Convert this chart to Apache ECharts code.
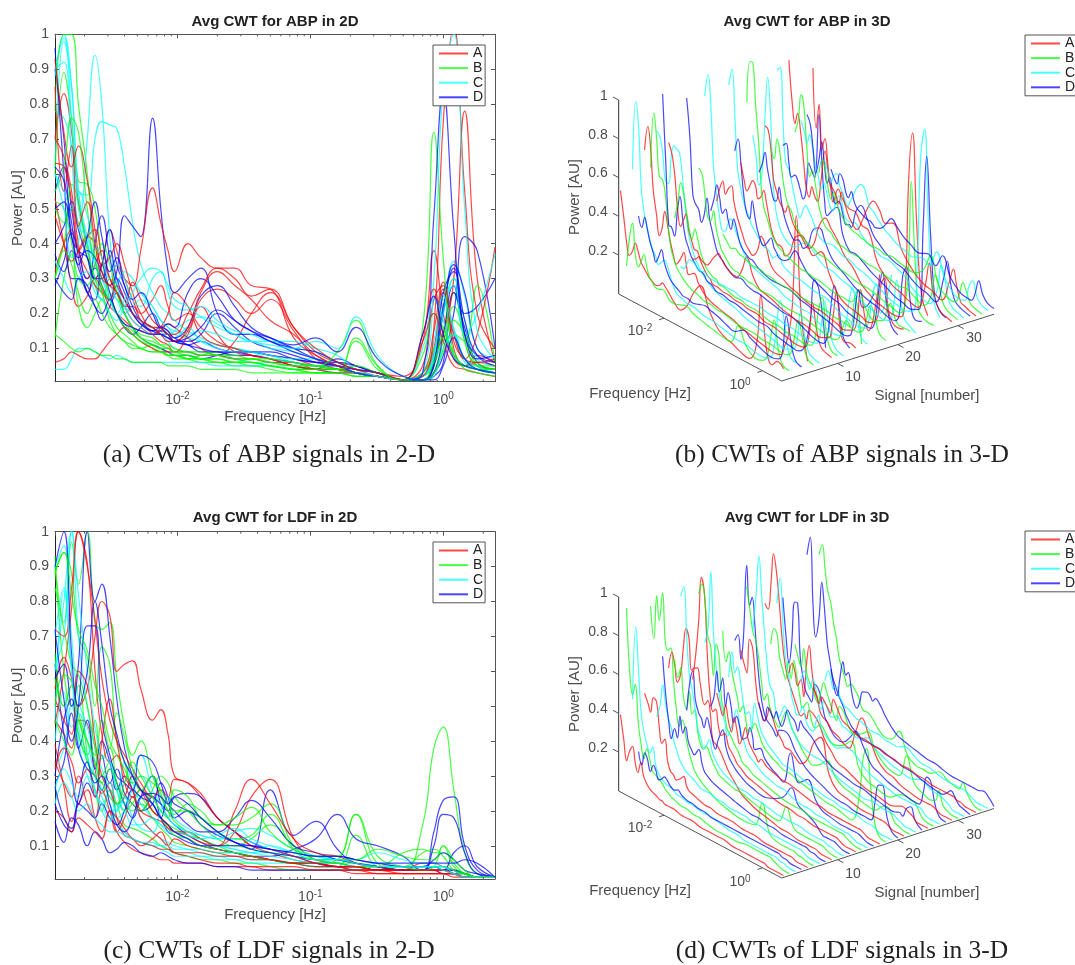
<!DOCTYPE html>
<html>
<head>
<meta charset="utf-8">
<style>html,body{margin:0;padding:0;background:#fff}#main{width:1075px;height:965px}</style>
<script src="https://cdn.jsdelivr.net/npm/echarts@6/dist/echarts.min.js"></script>
</head>
<body>
<div id="main"></div>
<script>
// shared frequency grid in Hz, the rows below have one value per entry
var freqHz = [0.0012,0.0014,0.0016,0.0018,0.0021, 0.0024,0.0027,0.0031,0.0035,0.004, 0.0046,0.0053,0.0065,0.0075,0.0085,
  0.0095,0.012,0.015,0.02,0.027, 0.036,0.05,0.075,0.11,0.16, 0.22,0.32,0.5,0.7,0.85, 1,1.2,1.45,1.8,2.45];
var minorFreqs = [0.002,0.003,0.004,0.005,0.006,0.007,0.008,0.009,0.02,0.03,0.04,0.05,0.06,0.07,0.08,0.09,
  0.2,0.3,0.4,0.5,0.6,0.7,0.8,0.9,2];
var groupNames = ['A','B','C','D'];
var groupColors = ['#ff0000','#00ff00','#00ffff','#0000ff'];
var powerTicks = [0.1,0.2,0.3,0.4,0.5,0.6,0.7,0.8,0.9,1];
var powerTicks3d = [0.2,0.4,0.6,0.8,1];
var signalTicks = [10,20,30];
var freqTicks3d = [0.01,1];

// power in hundredths, one row per signal 1..36, groups repeat A B C D
var abpPower = [
[53,40,28,22,25, 30,27,22,20,18, 16,15,14,15,17, 16,13,10,8,12, 20,26,16,9,6, 5,3,2,12,38, 20,7,5,8,6],
[13,30,37,22,16, 20,24,18,14,12, 10,10,11,10,8, 7,7,8,9,7, 6,5,4,3,3, 13,5,1,2,5, 15,26,12,5,4],
[62,98,85,55,42, 35,30,26,24,20, 22,24,20,15,12, 10,9,8,8,7, 6,6,5,4,3, 3,2,1,2,6, 20,35,25,10,7],
[37,32,38,33,26, 22,18,22,26,20, 16,13,11,10,9, 8,8,7,8,9, 8,7,5,4,7, 5,3,1,1,2, 6,26,16,6,4],
[70,83,72,52,40, 30,34,44,38,30, 24,20,24,28,22, 18,20,16,12,10, 9,8,7,5,4, 3,2,1,2,8, 14,30,78,30,6],
[60,89,76,58,57, 50,36,24,20,16, 14,12,10,9,8, 8,7,6,6,5, 5,4,3,3,3, 2,2,1,1,3, 12,22,14,5,3],
[78,76,68,55,54, 70,75,74,73,62, 46,34,26,22,20, 18,15,13,11,10, 9,8,6,5,4, 3,2,1,3,8, 24,14,6,4,3],
[96,60,30,30,26, 40,48,36,28,24, 20,18,15,15,14, 12,11,9,9,8, 8,7,6,5,5, 3,2,1,1,3, 8,20,42,38,10],
[70,65,55,40,30, 34,38,30,26,22, 22,18,14,12,11, 9,9,8,8,7, 7,6,6,4,4, 3,2,1,2,9, 27,15,7,5,4],
[30,40,50,46,36, 28,24,30,26,20, 16,13,11,10,10, 8,8,7,6,6, 5,5,4,3,3, 2,2,1,2,7, 22,30,12,5,4],
[4,4,7,10,10, 9,8,7,8,7, 6,6,6,6,6, 6,6,6,5,5, 5,5,4,4,3, 3,2,1,2,12, 26,16,7,4,3],
[90,70,42,38,36, 30,34,44,34,28, 22,18,16,14,13, 12,11,12,10,9, 9,8,7,6,6, 5,3,1,1,5, 20,34,26,10,6],
[6,7,9,8,7, 7,9,12,14,16, 14,12,10,9,9, 9,14,22,14,9, 8,7,5,4,3, 3,2,1,3,15, 29,10,5,6,5],
[52,50,40,30,28, 34,26,20,16,14, 12,10,9,9,8, 8,7,7,6,6, 6,5,4,4,4, 3,2,1,1,3, 9,14,12,28,6],
[88,100,85,55,40, 30,24,24,28,32, 30,26,22,18,16, 14,13,12,11,10, 9,7,6,5,5, 3,2,1,2,7, 20,30,18,7,5],
[28,35,43,38,30, 33,28,24,30,26, 20,17,15,14,14, 13,11,10,9,9, 9,9,7,6,5, 4,3,1,1,3, 14,28,20,22,30],
[32,40,44,38,42, 44,36,30,26,22, 18,16,14,16,20, 26,22,14,11,10, 8,7,5,4,4, 3,2,1,3,10, 26,14,7,14,39],
[14,12,10,9,10, 9,8,8,7,7, 6,6,6,6,5, 5,5,4,4,4, 3,3,3,3,3, 2,2,1,1,3, 10,18,14,6,4],
[90,99,75,50,40, 34,30,28,24,22, 20,18,16,16,14, 13,16,12,10,9, 9,8,7,7,5, 3,2,1,2,8, 22,28,14,20,37],
[55,62,50,36,26, 24,34,26,20,16, 14,16,20,16,14, 12,12,14,20,16, 12,10,8,6,5, 3,2,1,1,6, 22,33,18,8,5],
[48,40,35,38,42, 40,34,36,40,34, 26,20,16,16,15, 12,15,24,27,24, 20,24,15,7,4, 3,2,1,5,24, 28,12,7,6,7],
[78,100,100,80,60, 36,28,24,20,16, 14,12,11,10,10, 9,8,7,7,6, 6,5,4,4,4, 12,4,1,3,10, 14,8,5,5,5],
[60,50,36,40,70, 94,80,42,28,22, 18,16,14,14,14, 15,18,19,17,14, 12,12,10,9,6, 4,3,1,2,9, 25,15,7,5,3],
[40,45,52,44,36, 30,30,38,30,24, 20,17,15,16,15, 13,16,25,28,22, 16,13,10,7,5, 4,3,1,1,5, 26,32,14,7,8],
[63,62,52,38,32, 28,26,24,28,24, 20,18,16,14,12, 12,16,26,32,28, 24,18,14,8,5, 3,2,1,2,16, 75,102,55,20,10],
[50,46,57,52,38, 30,26,24,20,17, 15,13,12,11,11, 10,9,9,8,7, 7,6,5,5,4, 3,2,1,16,72, 36,8,5,4,4],
[90,92,65,45,42, 36,30,24,20,24, 28,26,22,18,16, 15,14,15,14,12, 12,10,9,7,5, 3,2,1,3,30, 85,100,50,15,7],
[50,52,42,36,38, 36,32,28,32,48, 45,42,76,50,32, 26,30,33,20,14, 14,12,9,7,5, 3,2,1,3,48, 84,44,14,8,6],
[93,72,62,68,58, 44,32,28,34,30, 28,38,56,46,38, 32,40,36,33,33, 28,27,13,8,5, 4,2,1,14,27, 14,8,5,4,3],
[55,62,76,72,50, 36,40,34,26,20, 16,14,13,11,10, 9,9,8,8,8, 7,7,6,5,4, 5,3,1,8,20, 16,8,5,4,3],
[60,55,50,55,48, 40,36,30,34,30, 24,22,30,32,26, 22,21,22,18,15, 14,12,12,10,8, 4,2,1,10,24, 18,8,5,4,3],
[62,58,46,34,42, 52,42,32,36,28, 24,26,20,16,17, 16,26,30,25,18, 15,12,10,9,6, 4,3,1,14,25, 14,7,5,4,3],
[85,55,68,45,52, 40,30,28,26,22, 29,24,18,16,14, 14,20,27,33,30, 25,27,16,10,6, 4,3,1,12,20, 12,5,4,3,2],
[30,38,34,26,20, 24,20,16,14,12, 11,10,9,9,8, 8,7,7,7,6, 7,6,5,5,9, 18,5,1,1,6, 13,9,4,3,2],
[35,30,26,30,32, 26,24,20,18,22, 26,30,33,32,28, 24,22,19,16,14, 12,11,10,12,10, 19,8,2,1,2, 10,14,7,4,3],
[30,26,24,30,28, 22,20,24,20,17, 16,15,14,14,13, 12,13,16,21,18, 15,13,11,13,9, 16,7,2,1,1, 5,13,7,4,3]
];

var ldfPower = [
[39,27,17,22,26, 18,14,20,14,11, 9,8,7,6,6, 5,5,5,4,4, 4,3,3,3,3, 2,2,2,2,2, 2,1,1,1,1],
[93,60,50,56,36, 26,20,26,22,16, 15,14,12,10,9, 8,7,6,6,5, 5,4,3,3,3, 3,4,4,4,4, 4,3,2,1,1],
[45,83,60,40,30, 25,22,26,18,14, 12,11,10,10,9, 8,8,7,7,6, 6,6,5,4,4, 3,3,3,3,3, 3,2,2,1,1],
[17,11,18,16,10, 14,12,8,9,11, 10,8,7,8,7, 6,5,5,4,4, 3,3,3,3,3, 3,3,3,3,3, 2,2,1,1,1],
[46,42,38,46,45, 32,25,28,18,13, 12,10,12,14,10, 8,7,6,5,5, 4,4,4,3,3, 3,2,2,2,2, 2,2,1,1,1],
[90,74,97,85,100, 75,72,74,58,44, 36,40,30,24,20, 17,14,12,10,8, 7,6,5,5,6, 19,5,3,3,3, 3,2,2,1,1],
[32,38,50,42,34, 30,24,20,16,14, 12,11,10,9,8, 7,7,7,6,6, 5,5,5,4,4, 3,3,3,3,3, 3,2,1,1,1],
[62,42,30,22,28, 24,36,28,32,25, 22,20,24,18,14, 13,11,10,9,8, 7,6,5,5,4, 4,3,3,3,3, 3,2,2,1,1],
[55,64,58,50,55, 70,80,76,60,62, 63,55,46,49,42, 30,28,24,18,14, 10,8,6,5,4, 3,3,2,2,2, 2,2,1,1,1],
[58,50,56,42,36, 46,35,38,28,22, 20,22,18,15,13, 11,10,9,8,8, 7,6,5,4,4, 13,4,3,3,3, 3,3,2,1,1],
[90,96,70,52,44, 34,26,22,18,20, 24,18,14,12,11, 10,9,8,7,7, 6,6,5,4,4, 4,4,3,3,3, 3,2,2,1,1],
[30,46,52,38,32, 30,26,32,28,22, 18,24,30,22,18, 16,13,11,9,8, 7,7,9,12,19, 12,10,7,3,3, 3,3,2,1,1],
[45,60,78,100,91, 60,42,34,36,28, 24,26,20,18,16, 14,12,10,9,8, 7,6,5,5,4, 4,3,3,3,3, 3,2,1,1,1],
[88,94,88,70,64, 50,67,62,40,34, 26,24,20,18,15, 13,12,10,9,8, 7,6,5,5,5, 4,4,4,4,4, 4,3,2,1,1],
[62,70,100,70,50, 38,32,26,20,24, 30,36,26,22,18, 16,14,12,10,9, 8,8,6,5,5, 4,4,3,3,3, 3,2,1,1,1],
[28,34,48,38,46, 32,40,34,26,30, 26,20,22,28,24, 18,20,16,13,11, 9,26,13,17,9, 5,4,3,3,3, 3,3,2,1,1],
[34,28,24,30,22, 18,26,20,14,18, 24,18,14,12,10, 12,10,9,8,7, 7,6,5,4,4, 3,3,3,3,3, 3,2,1,1,1],
[65,50,56,48,40, 34,28,32,26,20, 22,26,22,18,16, 15,13,12,10,10, 9,8,7,6,5, 5,4,3,16,38, 44,26,8,2,1],
[40,54,44,48,40, 30,26,28,20,34, 28,22,18,16,15, 14,12,10,10,9, 8,7,6,5,5, 4,4,4,3,3, 3,2,1,1,1],
[58,62,50,62,100, 80,85,70,52,38, 30,26,24,22,20, 24,25,24,18,14, 11,9,7,5,4, 4,3,3,3,14, 23,24,10,3,1],
[52,46,42,60,56, 40,30,26,22,24, 30,26,20,18,16, 14,14,12,10,14, 24,29,12,6,5, 4,3,3,3,3, 3,2,1,1,1],
[84,72,62,59,50, 38,30,34,28,24, 22,20,26,30,28, 24,20,16,12,10, 12,16,10,7,6, 5,4,4,8,9, 7,3,2,1,1],
[60,80,100,82,60, 44,36,34,26,22, 26,30,24,20,18, 16,14,13,12,12, 11,9,7,6,5, 4,5,4,4,4, 3,2,1,1,1],
[22,16,14,22,20, 18,22,18,16,20, 26,24,22,18,24, 22,20,18,14,11, 9,8,7,6,6, 5,4,3,3,4, 3,8,10,4,1],
[72,70,84,100,90, 74,58,46,40,36, 32,28,24,26,24, 29,28,25,18,14, 10,9,7,5,4, 4,3,3,5,5, 4,3,1,1,1],
[50,59,57,46,40, 36,46,38,48,41, 32,26,30,25,20, 19,22,20,16,16, 18,22,10,6,5, 4,4,8,9,8, 8,5,2,1,1],
[70,84,60,44,36, 26,22,18,20,24, 18,15,14,20,24, 18,15,13,12,14, 15,13,9,7,6, 5,4,4,4,4, 4,2,1,1,1],
[72,52,40,50,73, 73,46,36,30,28, 26,36,34,28,22, 20,16,14,14,18, 23,18,10,8,6, 5,4,3,3,10, 19,18,8,2,1],
[32,38,34,28,32, 24,40,52,40,30, 26,20,18,17,15, 14,13,11,10,20, 29,22,12,8,7, 5,4,3,3,3, 3,2,1,1,1],
[46,40,36,46,34, 30,28,24,22,28, 34,30,24,20,18, 26,24,18,16,18, 21,14,9,7,7, 19,7,4,3,4, 10,4,2,1,1],
[26,32,28,24,30, 26,20,17,22,20, 16,16,18,16,14, 14,13,12,13,15, 12,10,8,7,6, 6,8,6,5,5, 4,3,1,1,1],
[90,100,65,50,60, 80,68,50,42,34, 30,26,22,18,16, 14,12,10,10,10, 10,9,8,7,7, 6,5,4,4,6, 8,6,3,2,1],
[20,18,14,18,16, 14,12,20,18,15, 12,11,10,9,9, 8,8,8,7,7, 6,6,5,5,4, 4,3,3,3,3, 2,2,1,1,1],
[88,94,82,72,66, 56,50,40,36,32, 28,30,28,26,22, 20,20,18,14,12, 13,19,9,6,6, 6,9,7,6,6, 10,6,3,1,1],
[22,28,24,20,22, 18,16,14,14,13, 12,11,11,10,10, 9,9,9,8,8, 8,10,8,6,6, 5,4,4,4,4, 3,2,1,1,1],
[27,18,15,24,34, 28,30,22,16,14, 18,24,25,24,22, 24,22,18,14,11, 10,9,8,7,7, 6,5,5,5,5, 5,5,6,5,1]
];

var FONT = '"Liberation Sans", Arial, sans-serif';
var GREY = '#4d4d4d';
var FMIN = 0.0012, FMAX = 2.45, PMIN = 0.0045;
var SIGNAL_FIRST = 0.7, SIGNAL_LAST = 36;

// corners of the 3D floor as drawn on the page
var viewB = {back: [618.7, 294], front: [781.7, 381], right: [994, 314.3], unit: 194, legendTop: 35};
var viewD = {back: [618.7, 791], front: [781.7, 878], right: [994, 808.5], unit: 194, legendTop: 531};

function freqPos(f) {
  return (Math.log(f) - Math.log(FMIN)) / (Math.log(FMAX) - Math.log(FMIN));
}

function sigPos(s) {
  return (s - SIGNAL_FIRST) / (SIGNAL_LAST - SIGNAL_FIRST);
}

// t along the frequency edge, u along the signal edge, p upwards
function project(view, t, u, p) {
  return [
    view.back[0] + t * (view.front[0] - view.back[0]) + u * (view.right[0] - view.front[0]),
    view.back[1] + t * (view.front[1] - view.back[1]) + u * (view.right[1] - view.front[1]) - p * view.unit
  ];
}

function curve(i, axisIndex, data) {
  return {
    type: 'line', name: groupNames[i % 4], xAxisIndex: axisIndex, yAxisIndex: axisIndex,
    symbol: 'none', smooth: 0.45, silent: true, z: 2,
    itemStyle: {color: groupColors[i % 4]},
    lineStyle: {color: groupColors[i % 4], width: 1.2, opacity: 0.72},
    data: data
  };
}

function curves2d(rows, axisIndex) {
  return rows.map(function (row, i) {
    return curve(i, axisIndex, row.map(function (v, k) { return [freqHz[k], v / 100]; }));
  });
}

function curves3d(rows, view, axisIndex) {
  return rows.map(function (row, i) {
    return curve(i, axisIndex, row.map(function (v, k) {
      return project(view, freqPos(freqHz[k]), sigPos(i + 1), Math.min(v / 100, 1));
    }));
  });
}

function segment(a, b, axisIndex, color) {
  return {
    type: 'line', xAxisIndex: axisIndex, yAxisIndex: axisIndex, symbol: 'none', silent: true, z: 3,
    lineStyle: {color: color, width: 1}, data: [a, b]
  };
}

function frame3d(view, axisIndex) {
  var list = [
    segment(project(view, 0, 0, 0), project(view, 0, 0, 1), axisIndex, '#333'),
    segment(project(view, 0, 0, 0), project(view, 1, 0, 0), axisIndex, '#555'),
    segment(project(view, 1, 0, 0), project(view, 1, 1, 0), axisIndex, '#555')
  ];
  powerTicks3d.forEach(function (p) {
    list.push(segment(project(view, 0, 0, p), project(view, -0.035, 0, p), axisIndex, '#555'));
  });
  freqTicks3d.forEach(function (f) {
    var t = freqPos(f);
    list.push(segment(project(view, t, 0, 0), project(view, t, -0.024, 0), axisIndex, '#555'));
  });
  signalTicks.forEach(function (s) {
    var u = sigPos(s);
    list.push(segment(project(view, 1, u, 0), project(view, 1.035, u, 0), axisIndex, '#555'));
  });
  return list;
}

function label(text, x, y, extra) {
  var el = {
    type: 'text', x: x, y: y, z: 10, silent: true,
    style: {text: text, fill: GREY, fontSize: 14, fontFamily: FONT, textAlign: 'center', textVerticalAlign: 'middle'}
  };
  if (extra && extra.align) el.style.textAlign = extra.align;
  if (extra && extra.rotation) el.rotation = extra.rotation;
  if (extra && extra.size) el.style.fontSize = extra.size;
  return el;
}

function powerLabel(text, x, y) {
  var el = label(text, x, y);
  el.style.rich = {
    b: {fontSize: 14, fontFamily: FONT, fill: GREY},
    s: {fontSize: 10, fontFamily: FONT, fill: GREY, padding: [0, 0, 7, 0]}
  };
  return el;
}

function labels3d(view) {
  var list = [];
  var dy = view.front[1] - 381;
  powerTicks3d.forEach(function (p) {
    var pos = project(view, 0, 0, p);
    list.push(label(String(p), pos[0] - 11, pos[1] - 4, {align: 'right'}));
  });
  list.push(powerLabel('{b|10}{s|-2}', 640, 331.5 + dy));
  list.push(powerLabel('{b|10}{s|0}', 740, 385.5 + dy));
  signalTicks.forEach(function (s, i) {
    list.push(label(String(s), [853, 913, 974][i], [376.7, 357, 337.7][i] + dy));
  });
  list.push(label('Frequency [Hz]', 640, 393.5 + dy, {size: 15}));
  list.push(label('Signal [number]', 927, 395.5 + dy, {size: 15}));
  list.push(label('Power [AU]', 575, 197 + dy, {rotation: Math.PI / 2, size: 15}));
  return list;
}

function caption(text, x, y) {
  return {
    type: 'text', x: x, y: y, z: 10, silent: true,
    style: {text: text, fill: '#222', fontSize: 25.5, fontFamily: '"Liberation Serif", serif', textAlign: 'center', textVerticalAlign: 'middle'}
  };
}

function heading(text, x, y) {
  return {
    text: text, left: x, top: y, textAlign: 'center', padding: 0,
    textStyle: {fontFamily: FONT, fontSize: 15, fontWeight: 'bold', color: '#222'}
  };
}

function legendBox(x, y) {
  return {
    orient: 'vertical', left: x, top: y, data: groupNames, selectedMode: false, z: 6,
    itemWidth: 29, itemHeight: 12, itemGap: 0.6, padding: [1.5, 2, 1.5, 5],
    backgroundColor: '#fff', borderColor: '#555', borderWidth: 1,
    itemStyle: {opacity: 0},
    textStyle: {fontFamily: FONT, fontSize: 14, color: '#222'}
  };
}

function tickMarks(axisIndex) {
  return {
    type: 'custom', xAxisIndex: axisIndex, yAxisIndex: axisIndex, silent: true, z: 3,
    data: minorFreqs.map(function (f) { return [f]; }),
    encode: {x: 0},
    renderItem: function (params, api) {
      var low = api.coord([api.value(0), PMIN]);
      var high = api.coord([api.value(0), 1]);
      var st = {stroke: '#555', lineWidth: 1};
      return {type: 'group', children: [
        {type: 'line', shape: {x1: low[0], y1: low[1], x2: low[0], y2: low[1] - 2}, style: st},
        {type: 'line', shape: {x1: high[0], y1: high[1], x2: high[0], y2: high[1] + 2}, style: st}
      ]};
    }
  };
}

function xAxis2d(gridIndex, top) {
  return {
    type: 'log', gridIndex: gridIndex, min: FMIN, max: FMAX, position: top ? 'top' : 'bottom',
    name: top ? '' : 'Frequency [Hz]', nameLocation: 'center', nameGap: 28,
    nameTextStyle: {fontFamily: FONT, fontSize: 15, color: GREY},
    axisLine: {onZero: false, lineStyle: {color: '#555', width: 1}},
    axisTick: {inside: true, length: 4, lineStyle: {color: '#555'}},
    splitLine: {show: false}, minorTick: {show: false},
    axisLabel: {
      show: !top, margin: 10, fontFamily: FONT, showMinLabel: false, showMaxLabel: false,
      formatter: function (v) {
        var e = Math.log10(v);
        if (Math.abs(e - Math.round(e)) > 1e-6) return '';
        return '{b|10}{s|' + Math.round(e) + '}';
      },
      rich: {
        b: {fontSize: 14, fontFamily: FONT, color: GREY},
        s: {fontSize: 10, fontFamily: FONT, color: GREY, padding: [0, 0, 7, 0]}
      }
    }
  };
}

function yAxis2d(gridIndex, right) {
  return {
    type: 'value', gridIndex: gridIndex, min: PMIN, max: 1, position: right ? 'right' : 'left',
    name: right ? '' : 'Power [AU]', nameLocation: 'center', nameGap: 30,
    nameTextStyle: {fontFamily: FONT, fontSize: 15, color: GREY},
    axisLine: {onZero: false, lineStyle: {color: right ? '#555' : '#222', width: 1}},
    axisTick: {inside: true, length: 4, customValues: powerTicks, lineStyle: {color: '#555'}},
    splitLine: {show: false},
    axisLabel: {show: !right, customValues: powerTicks, margin: 6, fontFamily: FONT, fontSize: 14, color: GREY}
  };
}

function hiddenAxis(gridIndex, max, inverse) {
  return {type: 'value', gridIndex: gridIndex, min: 0, max: max, inverse: inverse, show: false};
}

var grids = [
  {left: 55, top: 34.3, width: 440, height: 347.4},
  {left: 55, top: 531.7, width: 440, height: 347.4},
  {left: 0, top: 0, width: 1075, height: 965}
];

var xAxes = [xAxis2d(0, false), xAxis2d(1, false), hiddenAxis(2, 1075, false), xAxis2d(0, true), xAxis2d(1, true)];
var yAxes = [yAxis2d(0, false), yAxis2d(1, false), hiddenAxis(2, 965, true), yAxis2d(0, true), yAxis2d(1, true)];

var series = [].concat(
  curves2d(abpPower, 0), curves2d(ldfPower, 1),
  tickMarks(0), tickMarks(1),
  frame3d(viewB, 2), frame3d(viewD, 2),
  curves3d(abpPower, viewB, 2), curves3d(ldfPower, viewD, 2)
);

var chart = echarts.init(document.getElementById('main'));
chart.setOption({
  animation: false,
  backgroundColor: '#fff',
  title: [
    heading('Avg CWT for ABP in 2D', 275, 14),
    heading('Avg CWT for ABP in 3D', 807, 14),
    heading('Avg CWT for LDF in 2D', 275, 510.5),
    heading('Avg CWT for LDF in 3D', 807, 510.5)
  ],
  legend: [legendBox(433, 45), legendBox(433, 542), legendBox(1025, viewB.legendTop), legendBox(1025, viewD.legendTop)],
  grid: grids,
  xAxis: xAxes,
  yAxis: yAxes,
  series: series,
  graphic: {elements: [].concat(
    labels3d(viewB), labels3d(viewD),
    caption('(a) CWTs of ABP signals in 2-D', 269, 455),
    caption('(b) CWTs of ABP signals in 3-D', 842, 455),
    caption('(c) CWTs of LDF signals in 2-D', 269, 951),
    caption('(d) CWTs of LDF signals in 3-D', 842, 951)
  )}
});
</script>
</body>
</html>
